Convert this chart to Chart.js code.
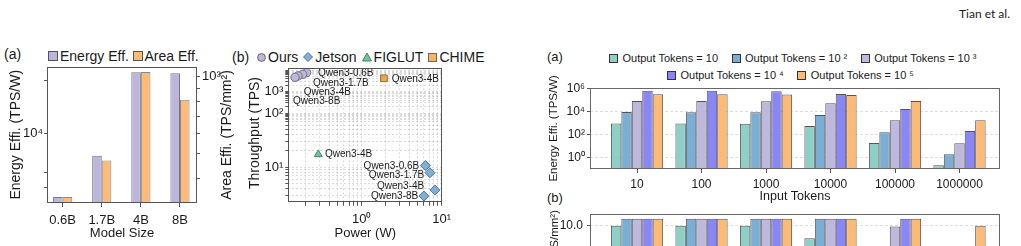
<!DOCTYPE html>
<html>
<head>
<meta charset="utf-8">
<title>Efficiency charts</title>
<script src="https://cdn.jsdelivr.net/npm/chart.js@4.4.1/dist/chart.umd.min.js"></script>
<style>
  html, body { margin: 0; padding: 0; background: #fff; }
  body { position: relative; width: 1021px; height: 246px; overflow: hidden;
         font-family: "Liberation Sans", Arial, Helvetica, sans-serif; color: #1a1a1a; }
  canvas { position: absolute; }
  .txt { position: absolute; white-space: nowrap; }
  .legend { position: absolute; display: flex; align-items: center; white-space: nowrap; }
  .legend span { line-height: 1; }
  .legend svg { display: block; flex: none; }
</style>
</head>
<body>
<div class="txt" style="right:11px; top:6px; font:12px Lato, sans-serif;">Tian et al.</div>
<div class="txt" style="left:4px; top:47px; font-size:14px; line-height:14px;">(a)</div>
<div class="txt" style="left:232px; top:50px; font-size:14px; line-height:14px;">(b)</div>
<div class="txt" style="left:547px; top:50px; font-size:13px; line-height:13px;">(a)</div>
<div class="txt" style="left:547px; top:191px; font-size:13px; line-height:13px;">(b)</div>

<div id="legModel" class="legend" style="left:48px; top:49px; font-size:14px; height:14px;"></div>
<div id="legPower" class="legend" style="left:257px; top:50px; font-size:14px; height:14px;"></div>
<div id="legOut1" class="legend" style="left:609px; top:53px; font-size:11px; height:11px;"></div>
<div id="legOut2" class="legend" style="left:667px; top:69.5px; font-size:11px; height:11px;"></div>

<canvas id="modelChart" width="245" height="206" style="left:0; top:40px;"></canvas>
<canvas id="powerChart" width="250" height="206" style="left:245px; top:40px;"></canvas>
<canvas id="energyChart" width="481" height="166" style="left:540px; top:40px;"></canvas>
<canvas id="areaChart" width="481" height="150" style="left:540px; top:190px;"></canvas>

<script>
// ---- (a) efficiency per model size ----
const modelSizes = ['0.6B', '1.7B', '4B', '8B'];
const energyEff = [4390, 7510, 22300, 22000];   // TPS/W
const areaEff = [338, 469, 1040, 811];          // TPS/mm2
const energyTicks = [5000, 6000, 10000, 20000];
const energyTickLabels = ['', '', '10⁴', ''];
const areaTicks = [400, 500, 600, 700, 800, 900, 1000];
const areaTickLabels = ['', '', '', '', '', '', '10³'];

// ---- (b) throughput vs power ----
const qwenModels = ['Qwen3-0.6B', 'Qwen3-1.7B', 'Qwen3-4B', 'Qwen3-8B'];
const oursPower = [0.205, 0.183, 0.160, 0.147];
const oursTps = [7590, 6390, 5330, 4640];
const jetsonPower = [6.27, 7.14, 8.25, 6.01];
const jetsonTps = [10.75, 7.9, 3.78, 2.93];
const figlutModels = ['Qwen3-4B'];
const figlutPower = [0.287];
const figlutTps = [17.3];
const chimeModels = ['Qwen3-4B'];
const chimePower = [1.9];
const chimeTps = [4170];
const powerTicks = [0.2, 0.3, 0.4, 0.5, 0.6, 0.7, 0.8, 0.9, 1, 2, 3, 4, 5, 6, 7, 8, 9, 10];
const powerTickLabels = powerTicks.map(v => v === 1 ? '10⁰' : v === 10 ? '10¹' : '');
const tpsHighTicks = [50, 60, 70, 80, 90, 100, 200, 300, 400, 500, 600, 700, 800, 900,
                      1000, 2000, 3000, 4000, 5000, 6000, 7000, 8000, 9000, 10000];
const tpsHighTickLabels = tpsHighTicks.map(v => v === 100 ? '10²' : v === 1000 ? '10³' : '');
const tpsLowTicks = [3, 4, 5, 6, 7, 8, 9, 10, 20, 30, 40, 50, 60, 70];
const tpsLowTickLabels = tpsLowTicks.map(v => v === 10 ? '10¹' : '');

// ---- right panel: input / output tokens ----
const inputTokens = ['10', '100', '1000', '10000', '100000', '1000000'];
const outputNames = ['Output Tokens = 10', 'Output Tokens = 10 ²', 'Output Tokens = 10 ³',
                     'Output Tokens = 10 ⁴', 'Output Tokens = 10 ⁵'];
const energyOut1 = [850, 850, 830, 525, 17.5, 0.2];
const energyOut2 = [8500, 8400, 8200, 4800, 150, 1.8];
const energyOut3 = [79000, 78000, 76000, 50000, 1700, 17];
const energyOut4 = [600000, 600000, 560000, 320000, 16000, 190];
const energyOut5 = [300000, 300000, 290000, 260000, 77000, 1700];
const areaOut1 = [10, 10, 10, 8.2, 1.2, 0.05];
const areaOut2 = [11, 11, 11, 11, 5.6, 0.4];
const areaOut3 = [11, 11, 11, 11, 9.9, 2.1];
const areaOut4 = [11, 11, 11, 11, 11, 6.8];
const areaOut5 = [11, 11, 11, 11, 11, 10];
const energyLogTicks = [1, 100, 10000, 1000000];
const energyLogTickLabels = ['10⁰', '10²', '10⁴', '10⁶'];

const energySeries = [energyOut1, energyOut2, energyOut3, energyOut4, energyOut5];
const areaSeries = [areaOut1, areaOut2, areaOut3, areaOut4, areaOut5];
const outColors = ['#8ed0c5', '#7aaed4', '#bdb8dc', '#8a86f5', '#fdb976'];

const FONT = '"Liberation Sans", Arial, Helvetica, sans-serif';
Chart.defaults.font.family = FONT;
Chart.defaults.color = '#1a1a1a';
Chart.defaults.animation = false;

// box around the plot area
const framePlugin = {
  id: 'frame',
  afterDraw(chart, args, opts) {
    const { ctx, chartArea: a } = chart;
    const l = Math.round(a.left) + 0.5, t = Math.round(a.top) + 0.5;
    const r = Math.round(a.right) - 0.5, b = Math.round(a.bottom) - 0.5;
    ctx.save();
    ctx.strokeStyle = opts.color || '#555';
    ctx.lineWidth = 1;
    ctx.strokeRect(l, t, r - l, b - t);
    ctx.restore();
  }
};

// extra axis titles that Chart.js can't place the way the figure does
const freeText = {
  id: 'freeText',
  afterDraw(chart, args, opts) {
    const ctx = chart.ctx;
    (opts.items || []).forEach(t => {
      ctx.save();
      ctx.translate(t.x, t.y);
      ctx.rotate(t.rotate || 0);
      ctx.font = t.font;
      ctx.fillStyle = '#1a1a1a';
      ctx.textAlign = t.align || 'center';
      ctx.textBaseline = 'middle';
      ctx.fillText(t.text, 0, 0);
      ctx.restore();
    });
  }
};

// model names next to scatter points
const pointLabels = {
  id: 'pointLabels',
  afterDatasetsDraw(chart, args, opts) {
    const ctx = chart.ctx;
    ctx.save();
    ctx.font = opts.font;
    ctx.fillStyle = '#1a1a1a';
    ctx.textBaseline = 'middle';
    (opts.sets || []).forEach(s => {
      const meta = chart.getDatasetMeta(s.dataset);
      ctx.textAlign = s.align;
      s.labels.forEach((txt, i) => {
        const el = meta.data[i];
        ctx.fillText(txt, el.x + s.offsets[i][0], el.y + s.offsets[i][1]);
      });
    });
    ctx.restore();
  }
};

// html legends
function marker(shape, size, fill, stroke) {
  const ns = 'http://www.w3.org/2000/svg';
  const svg = document.createElementNS(ns, 'svg');
  svg.setAttribute('width', size);
  svg.setAttribute('height', size);
  let el;
  const c = size / 2;
  if (shape === 'circle') {
    el = document.createElementNS(ns, 'circle');
    el.setAttribute('cx', c); el.setAttribute('cy', c); el.setAttribute('r', c - 0.6);
  } else if (shape === 'diamond') {
    el = document.createElementNS(ns, 'polygon');
    el.setAttribute('points', `${c},0.5 ${size - 0.5},${c} ${c},${size - 0.5} 0.5,${c}`);
  } else if (shape === 'triangle') {
    el = document.createElementNS(ns, 'polygon');
    el.setAttribute('points', `${c},1 ${size - 0.5},${size - 1} 0.5,${size - 1}`);
  } else {
    el = document.createElementNS(ns, 'rect');
    el.setAttribute('x', 0.5); el.setAttribute('y', 0.5);
    el.setAttribute('width', size - 1); el.setAttribute('height', size - 1);
  }
  el.setAttribute('fill', fill);
  el.setAttribute('stroke', stroke);
  el.setAttribute('stroke-width', 1);
  svg.appendChild(el);
  return svg;
}

function buildLegend(id, items, textGap, itemGap) {
  const box = document.getElementById(id);
  items.forEach((it, i) => {
    const m = marker(it.shape, it.size, it.fill, it.stroke);
    if (i > 0) m.style.marginLeft = itemGap + 'px';
    box.appendChild(m);
    const s = document.createElement('span');
    s.textContent = it.text;
    s.style.marginLeft = textGap + 'px';
    box.appendChild(s);
  });
}

buildLegend('legModel', [
  { text: 'Energy Eff.', shape: 'square', size: 10, fill: '#bcb5dc', stroke: '#555' },
  { text: 'Area Eff.', shape: 'square', size: 10, fill: '#fdbb77', stroke: '#555' }
], 2, 3.5);

buildLegend('legPower', [
  { text: 'Ours', shape: 'circle', size: 9, fill: '#bdb8dc', stroke: '#666' },
  { text: 'Jetson', shape: 'diamond', size: 10, fill: '#7fb0d8', stroke: '#4f7498' },
  { text: 'FIGLUT', shape: 'triangle', size: 10, fill: '#70c49c', stroke: '#3c8a63' },
  { text: 'CHIME', shape: 'square', size: 9, fill: '#f5b46a', stroke: '#666' }
], 2, 5);

const outItems = outputNames.map((n, k) => ({ text: n, shape: 'square', size: 9, fill: outColors[k], stroke: '#333' }));
buildLegend('legOut1', outItems.slice(0, 3), 4.5, 13.5);
buildLegend('legOut2', outItems.slice(3), 4.5, 13.5);

const tickColor = '#555';
const gridColor = 'rgba(0,0,0,0.14)';

// ---- chart (a): model size ----
new Chart('modelChart', {
  type: 'bar',
  data: {
    datasets: [
      { label: 'Energy Eff.', yAxisID: 'y', data: modelSizes.map((m, i) => ({ x: i, y: energyEff[i] })),
        backgroundColor: '#bcb5dc', borderColor: '#777', borderWidth: 1 },
      { label: 'Area Eff.', yAxisID: 'y1', data: modelSizes.map((m, i) => ({ x: i, y: areaEff[i] })),
        backgroundColor: '#fdbb77', borderColor: '#888', borderWidth: 1 }
    ]
  },
  options: {
    responsive: false,
    layout: { autoPadding: false, padding: { top: 26.5, left: 0, right: 0, bottom: 0 } },
    datasets: { bar: { categoryPercentage: 0.49, barPercentage: 1 } },
    plugins: {
      legend: { display: false }, tooltip: { enabled: false },
      frame: { color: '#555' },
      freeText: { items: [{ text: 'Area Effi. (TPS/mm²)', x: 227, y: 95, rotate: -Math.PI / 2, font: '14px ' + FONT }] }
    },
    scales: {
      x: {
        type: 'linear', offset: false, min: -0.4, max: 3.435, bounds: 'data',
        afterBuildTicks: s => { s.ticks = modelSizes.map((m, i) => ({ value: i })); },
        ticks: { autoSkip: false, maxRotation: 0, padding: 6, font: { size: 13 }, callback: v => modelSizes[v] },
        grid: { offset: false, drawOnChartArea: false, tickLength: 4, tickColor: tickColor },
        border: { display: false },
        title: { display: true, text: 'Model Size', font: { size: 13 }, padding: { top: 0, bottom: 5 } },
        afterFit: s => { s.height = 43; }
      },
      y: {
        type: 'logarithmic', position: 'left', min: 4060, max: 24000, bounds: 'data',
        afterBuildTicks: s => { s.ticks = energyTicks.map(v => ({ value: v })); },
        ticks: { autoSkip: false, padding: 1, font: { size: 13 }, callback: (v, i) => energyTickLabels[i] },
        grid: { drawOnChartArea: false, tickLength: 3, tickColor: tickColor },
        border: { display: false },
        title: { display: true, text: 'Energy Effi. (TPS/W)', font: { size: 14 }, padding: { top: 7.6, bottom: 0 } },
        afterFit: s => { s.width = 47; }
      },
      y1: {
        type: 'logarithmic', position: 'right', min: 320, max: 1094, bounds: 'data',
        afterBuildTicks: s => { s.ticks = areaTicks.map(v => ({ value: v })); },
        ticks: { autoSkip: false, padding: 2, font: { size: 13 }, callback: (v, i) => areaTickLabels[i] },
        grid: { drawOnChartArea: false, tickLength: 3, tickColor: tickColor },
        border: { display: false },
        afterFit: s => { s.width = 48; }
      }
    }
  },
  plugins: [framePlugin, freeText]
});

// ---- chart (b): throughput vs power, broken log y axis ----
function pts(xs, ys) { return xs.map((x, i) => ({ x: x, y: ys[i] })); }

new Chart('powerChart', {
  type: 'scatter',
  data: {
    datasets: [
      { label: 'Ours', yAxisID: 'yTop', data: pts(oursPower, oursTps), pointStyle: 'circle', pointRadius: 4.2,
        backgroundColor: '#bdb8dc', borderColor: '#6e6c80', borderWidth: 1 },
      { label: 'Jetson', yAxisID: 'yBot', data: pts(jetsonPower, jetsonTps), pointStyle: 'rectRot', pointRadius: 5,
        backgroundColor: '#7fb0d8', borderColor: '#4f7498', borderWidth: 1 },
      { label: 'FIGLUT', yAxisID: 'yBot', data: pts(figlutPower, figlutTps), pointStyle: 'triangle', pointRadius: 4.5,
        backgroundColor: '#70c49c', borderColor: '#3c8a63', borderWidth: 1 },
      { label: 'CHIME', yAxisID: 'yTop', data: pts(chimePower, chimeTps), pointStyle: 'rect', pointRadius: 4.7,
        backgroundColor: '#eda653', borderColor: '#9a6a2e', borderWidth: 1 }
    ]
  },
  options: {
    responsive: false,
    layout: { autoPadding: false, padding: { top: 28.3, left: 0, right: 52.7, bottom: 0 } },
    plugins: {
      legend: { display: false }, tooltip: { enabled: false },
      frame: { color: '#555' },
      freeText: { items: [{ text: 'Throughput (TPS)', x: 10, y: 93, rotate: -Math.PI / 2, font: '14px ' + FONT }] },
      pointLabels: {
        font: '10px ' + FONT,
        sets: [
          { dataset: 0, labels: qwenModels, align: 'left', offsets: [[11.3, 0.6], [10.3, 9], [5.7, 16.7], [-2, 24.4]] },
          { dataset: 1, labels: qwenModels, align: 'right', offsets: [[-6.2, 0.5], [-5.7, 2.3], [-10.7, -3.3], [-5.7, 0.7]] },
          { dataset: 2, labels: figlutModels, align: 'left', offsets: [[6.7, 0]] },
          { dataset: 3, labels: chimeModels, align: 'left', offsets: [[7.7, 0.7]] }
        ]
      }
    },
    scales: {
      x: {
        type: 'logarithmic', min: 0.121, max: 10.2, bounds: 'data',
        afterBuildTicks: s => { s.ticks = powerTicks.map(v => ({ value: v })); },
        ticks: { autoSkip: false, maxRotation: 0, padding: 5.5, font: { size: 13 }, callback: (v, i) => powerTickLabels[i] },
        grid: { color: gridColor, tickLength: 4, tickColor: tickColor },
        border: { display: false, dash: [2, 2] },
        title: { display: true, text: 'Power (W)', font: { size: 13 }, padding: { top: 0, bottom: 4.9 } },
        afterFit: s => { s.height = 44.3; }
      },
      // lower part of the broken axis (placed first: left stacks fill from the top in reverse order)
      yBot: {
        type: 'logarithmic', position: 'left', stack: 'tps', stackWeight: 81.7, min: 2.3, max: 74.8, bounds: 'data',
        afterBuildTicks: s => { s.ticks = tpsLowTicks.map(v => ({ value: v })); },
        ticks: { autoSkip: false, padding: 2, font: { size: 13 }, callback: (v, i) => tpsLowTickLabels[i] },
        grid: { color: gridColor, tickLength: 3, tickColor: tickColor },
        border: { display: false, dash: [2, 2] },
        afterFit: s => { s.width = 43.3; }
      },
      yTop: {
        type: 'logarithmic', position: 'left', stack: 'tps', stackWeight: 51.7, min: 49, max: 12100, bounds: 'data',
        afterBuildTicks: s => { s.ticks = tpsHighTicks.map(v => ({ value: v })); },
        ticks: { autoSkip: false, padding: 2, font: { size: 13 }, callback: (v, i) => tpsHighTickLabels[i] },
        grid: { color: gridColor, tickLength: 3, tickColor: tickColor },
        border: { display: false, dash: [2, 2] },
        afterFit: s => { s.width = 43.3; }
      }
    }
  },
  plugins: [framePlugin, freeText, pointLabels]
});

// ---- right (a): energy efficiency by input tokens ----
new Chart('energyChart', {
  type: 'bar',
  data: {
    datasets: outputNames.map((name, k) => ({
      label: name,
      data: inputTokens.map((t, i) => ({ x: i, y: energySeries[k][i] })),
      backgroundColor: outColors[k], borderColor: '#555', borderWidth: 1
    }))
  },
  options: {
    responsive: false,
    layout: { autoPadding: false, padding: { top: 47.7, left: 0, right: 21, bottom: 0 } },
    datasets: { bar: { categoryPercentage: 0.81, barPercentage: 1 } },
    plugins: { legend: { display: false }, tooltip: { enabled: false }, frame: { color: '#666' } },
    scales: {
      x: {
        type: 'linear', offset: false, min: -0.729, max: 5.628, bounds: 'data',
        afterBuildTicks: s => { s.ticks = inputTokens.map((t, i) => ({ value: i })); },
        ticks: { autoSkip: false, maxRotation: 0, padding: 4.5, font: { size: 12 }, callback: v => inputTokens[v] },
        grid: { offset: false, drawOnChartArea: false, tickLength: 4, tickColor: tickColor },
        border: { display: false },
        title: { display: true, text: 'Input Tokens', font: { size: 12.5 }, padding: { top: 0, bottom: 1.5 } },
        afterFit: s => { s.height = 37; }
      },
      y: {
        type: 'logarithmic', min: 0.096, max: 1.13e6, bounds: 'data',
        afterBuildTicks: s => { s.ticks = energyLogTicks.map(v => ({ value: v })); },
        ticks: { autoSkip: false, padding: 2, font: { size: 12 }, callback: (v, i) => energyLogTickLabels[i] },
        grid: { color: 'rgba(0,0,0,0.13)', tickLength: 3, tickColor: tickColor },
        border: { display: false, dash: [3, 2] },
        title: { display: true, text: 'Energy Effi. (TPS/W)', font: { size: 11.5 }, padding: { top: 7.1, bottom: 0 } },
        afterFit: s => { s.width = 50; }
      }
    }
  },
  plugins: [framePlugin]
});

// ---- right (b): area efficiency by input tokens (cut by the page edge) ----
new Chart('areaChart', {
  type: 'bar',
  data: {
    datasets: outputNames.map((name, k) => ({
      label: name,
      data: inputTokens.map((t, i) => ({ x: i, y: areaSeries[k][i] })),
      backgroundColor: outColors[k], borderColor: '#555', borderWidth: 1
    }))
  },
  options: {
    responsive: false,
    layout: { autoPadding: false, padding: { top: 24, left: 0, right: 21, bottom: 0 } },
    datasets: { bar: { categoryPercentage: 0.81, barPercentage: 1 } },
    plugins: {
      legend: { display: false }, tooltip: { enabled: false }, frame: { color: '#666' },
      freeText: { items: [{ text: 'Area Effi. (TPS/mm²)', x: 15, y: 20, rotate: -Math.PI / 2, align: 'right', font: '11.5px ' + FONT }] }
    },
    scales: {
      x: {
        type: 'linear', offset: false, min: -0.729, max: 5.628, bounds: 'data',
        afterBuildTicks: s => { s.ticks = inputTokens.map((t, i) => ({ value: i })); },
        ticks: { autoSkip: false, maxRotation: 0, padding: 4.5, font: { size: 12 }, callback: v => inputTokens[v] },
        grid: { offset: false, drawOnChartArea: false, tickLength: 4, tickColor: tickColor },
        border: { display: false },
        afterFit: s => { s.height = 45; }
      },
      y: {
        type: 'linear', min: 0, max: 11.7, bounds: 'data',
        ticks: { stepSize: 2.5, padding: 4, font: { size: 12 }, callback: v => v.toFixed(1) },
        grid: { color: 'rgba(0,0,0,0.13)', tickLength: 3, tickColor: tickColor },
        border: { display: false, dash: [3, 2] },
        afterFit: s => { s.width = 50; }
      }
    }
  },
  plugins: [framePlugin, freeText]
});
</script>
</body>
</html>
